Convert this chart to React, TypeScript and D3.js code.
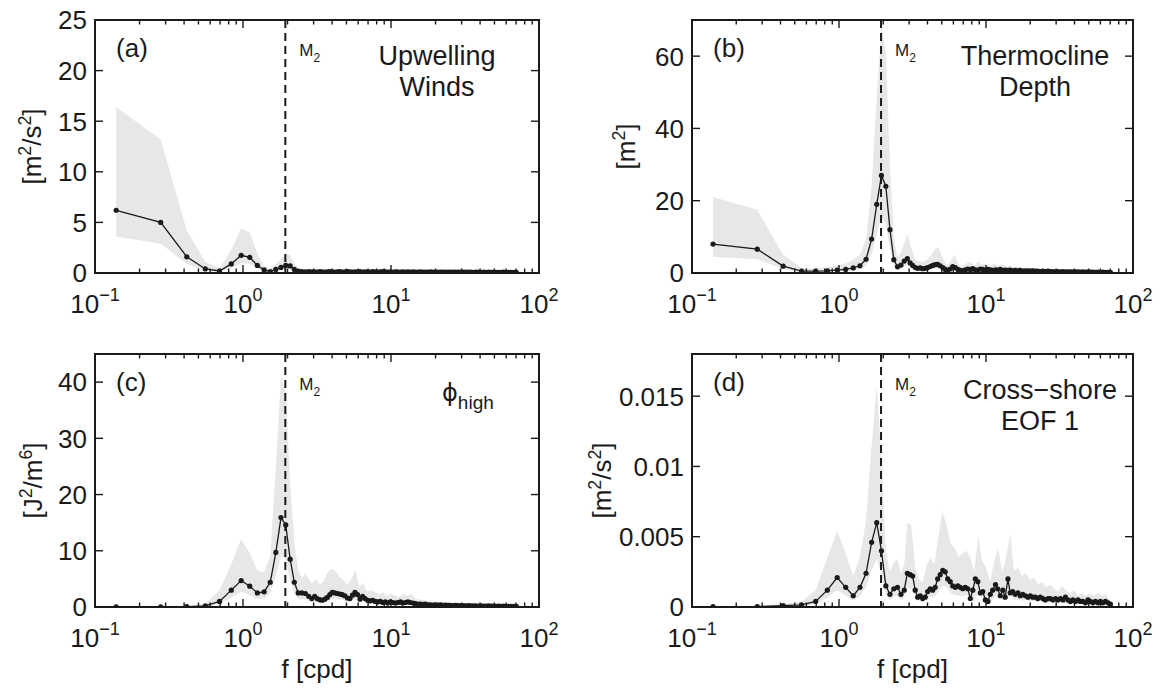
import React from 'react';
import * as d3 from 'd3';

// frequencies of the spectral estimates [cpd]
const psdFreq = [
  0.139, 0.278, 0.417, 0.556, 0.694, 0.833, 0.972, 1.111, 1.25, 1.389, 1.528, 1.667, 1.806, 1.944,
  2.083, 2.222, 2.361, 2.5, 2.639, 2.778, 2.917,
  3.05, 3.17, 3.3, 3.43, 3.57, 3.71, 3.86, 4.01, 4.17, 4.34,
  4.51, 4.69, 4.88, 5.08, 5.28, 5.49, 5.71, 5.94, 6.18, 6.43,
  6.68, 6.95, 7.23, 7.52, 7.82, 8.13, 8.46, 8.8, 9.15, 9.51,
  9.9, 10.3, 10.7, 11.1, 11.6, 12.0, 12.5, 13.0, 13.5, 14.1,
  14.6, 15.2, 15.8, 16.5, 17.1, 17.8, 18.5, 19.3, 20.0, 20.8,
  21.7, 22.5, 23.4, 24.4, 25.3, 26.4, 27.4, 28.5, 29.7, 30.8,
  32.1, 33.4, 34.7, 36.1, 37.5, 39.0, 40.6, 42.2, 43.9, 45.6,
  47.5, 49.4, 51.3, 53.4, 55.5, 57.7, 60.0, 62.4, 64.9, 67.5, 70.2,
];

// frequencies of the confidence band [cpd]
const bandFreq = [
  0.139, 0.278, 0.417, 0.556, 0.694, 0.833, 0.972, 1.111, 1.25, 1.389, 1.528, 1.667, 1.806, 1.944,
  2.083, 2.222, 2.361, 2.5, 2.639, 2.778, 2.917, 3.1, 3.3, 3.5, 3.7,
  3.95, 4.2, 4.45, 4.75, 5.05, 5.4, 5.75, 6.1, 6.5, 6.9, 7.35, 7.8, 8.3, 8.85, 9.4, 10.0,
  10.65, 11.35, 12.1, 12.9, 13.7, 14.6, 15.5, 16.5, 17.6, 18.7, 19.9, 21.2, 22.6, 24.1, 25.6, 27.3,
  29.0, 30.9, 32.9, 35.0, 37.3, 39.7, 42.3, 45.0, 47.9, 51.0, 54.3, 57.8, 61.5, 65.5, 70.0,
];

// (a) upwelling winds [m2/s2]
const windsPsd = [
  6.2, 5.0, 1.6, 0.4, 0.2, 0.9, 1.75, 1.55, 0.75, 0.3, 0.15, 0.35, 0.55, 0.75,
  0.7, 0.35, 0.2, 0.15, 0.12, 0.15, 0.12,
  0.12, 0.1, 0.13, 0.11, 0.1, 0.12, 0.14, 0.11, 0.1, 0.12,
  0.13, 0.1, 0.11, 0.14, 0.12, 0.1, 0.12, 0.11, 0.13, 0.1,
  0.11, 0.12, 0.1, 0.13, 0.11, 0.1, 0.12, 0.14, 0.11, 0.1,
  0.12, 0.1, 0.11, 0.12, 0.1, 0.11, 0.1, 0.12, 0.1, 0.11,
  0.1, 0.09, 0.11, 0.1, 0.09, 0.1, 0.11, 0.09, 0.1, 0.09,
  0.1, 0.09, 0.08, 0.1, 0.09, 0.08, 0.09, 0.1, 0.08, 0.09,
  0.08, 0.09, 0.08, 0.07, 0.09, 0.08, 0.07, 0.08, 0.07, 0.08,
  0.07, 0.08, 0.07, 0.06, 0.07, 0.08, 0.06, 0.07, 0.06, 0.07, 0.06,
];
const windsHi = [
  16.4, 13.2, 4.2, 1.1, 0.5, 2.3, 4.4, 4.0, 1.9, 0.7, 0.4, 0.9, 1.4, 1.9,
  1.8, 0.9, 0.5, 0.4, 0.3, 0.4, 0.3, 0.3, 0.3, 0.25, 0.3,
  0.25, 0.3, 0.25, 0.3, 0.25, 0.28, 0.25, 0.3, 0.25, 0.25, 0.28, 0.25, 0.25, 0.3, 0.25, 0.28,
  0.25, 0.25, 0.28, 0.25, 0.25, 0.22, 0.25, 0.22, 0.25, 0.22, 0.22, 0.25, 0.22, 0.22, 0.2, 0.22,
  0.2, 0.22, 0.2, 0.2, 0.22, 0.2, 0.2, 0.18, 0.2, 0.18, 0.2, 0.18, 0.18, 0.18, 0.15,
];
const windsLo = [
  3.6, 2.9, 0.9, 0.22, 0.1, 0.5, 1.0, 0.9, 0.42, 0.17, 0.08, 0.2, 0.3, 0.42,
  0.4, 0.2, 0.11, 0.08, 0.07, 0.08, 0.07, 0.06, 0.07, 0.06, 0.07,
  0.06, 0.07, 0.06, 0.07, 0.06, 0.06, 0.06, 0.07, 0.06, 0.06, 0.06, 0.06, 0.06, 0.07, 0.06, 0.06,
  0.06, 0.06, 0.06, 0.06, 0.06, 0.05, 0.06, 0.05, 0.06, 0.05, 0.05, 0.06, 0.05, 0.05, 0.05, 0.05,
  0.05, 0.05, 0.05, 0.05, 0.05, 0.05, 0.05, 0.04, 0.05, 0.04, 0.05, 0.04, 0.04, 0.04, 0.03,
];

// (b) thermocline depth [m2]
const thermoPsd = [
  8.0, 6.6, 1.9, 0.5, 0.5, 0.6, 0.8, 1.0, 1.4, 2.0, 3.8, 9.4, 19, 27,
  24, 12, 3.7, 1.7, 2.2, 3.3, 4.0,
  2.8, 2.1, 1.5, 1.3, 1.4, 1.2, 1.3, 1.5, 1.8, 2.1,
  2.3, 2.4, 2.0, 1.5, 1.0, 0.7, 1.1, 1.8, 1.5, 1.0,
  0.7, 0.6, 0.9, 1.1, 1.0, 1.2, 0.9, 0.8, 1.1, 1.0,
  0.8, 1.0, 0.9, 0.7, 0.9, 0.8, 1.0, 0.7, 0.8, 0.7,
  0.8, 0.6, 0.7, 0.6, 0.7, 0.5, 0.6, 0.6, 0.5, 0.6,
  0.5, 0.5, 0.4, 0.5, 0.4, 0.5, 0.4, 0.4, 0.35, 0.4,
  0.35, 0.4, 0.3, 0.35, 0.3, 0.35, 0.3, 0.3, 0.25, 0.3,
  0.25, 0.3, 0.25, 0.25, 0.2, 0.25, 0.2, 0.25, 0.2, 0.2, 0.2,
];
const thermoHi = [
  21, 17.5, 5, 1.4, 1.3, 1.6, 2.1, 2.6, 3.6, 5.1, 9.5, 24, 49, 68,
  61, 30, 9.5, 4.5, 5.6, 8.3, 10.8, 7, 3.8, 3.3, 3.1,
  3.6, 4.8, 6.5, 7.2, 4.2, 2.2, 3.2, 5.1, 2.6, 1.7, 2.6, 3.1, 2.1, 3.2, 2.3, 2.6,
  1.9, 2.6, 2.1, 2.4, 1.8, 2.1, 1.6, 1.8, 1.3, 1.6, 1.3, 1.5, 1.1, 1.3, 1.0, 1.3,
  1.0, 0.8, 1.0, 0.8, 1.0, 0.8, 0.8, 0.9, 0.7, 0.8, 0.7, 0.8, 0.5, 0.6, 0.5,
];
const thermoLo = [
  4.5, 3.8, 1.1, 0.3, 0.3, 0.35, 0.45, 0.55, 0.8, 1.1, 2.1, 5.3, 10.8, 15.4,
  13.7, 6.8, 2.1, 1.0, 1.25, 1.9, 2.3, 1.6, 0.85, 0.75, 0.7,
  0.8, 1.1, 1.25, 1.3, 0.9, 0.45, 0.7, 1.0, 0.55, 0.35, 0.55, 0.6, 0.45, 0.7, 0.5, 0.55,
  0.4, 0.55, 0.45, 0.5, 0.4, 0.45, 0.35, 0.4, 0.3, 0.35, 0.3, 0.35, 0.25, 0.3, 0.25, 0.3,
  0.25, 0.2, 0.25, 0.2, 0.25, 0.2, 0.2, 0.2, 0.15, 0.2, 0.15, 0.2, 0.12, 0.15, 0.12,
];

// (c) phi_high [J2/m6]
const phiPsd = [
  0.02, 0.02, 0.05, 0.2, 1.0, 3.0, 4.7, 3.7, 2.5, 2.7, 4.4, 9.7, 15.9, 14.6,
  8.5, 4.4, 2.5, 2.5, 2.4, 1.9, 1.5,
  1.9, 1.5, 1.3, 1.2, 1.4, 1.7, 2.2, 2.6, 2.5, 2.4,
  2.3, 2.2, 2.0, 1.6, 1.5, 2.1, 2.6, 2.2, 1.4, 1.9,
  1.5, 1.2, 1.1, 1.2, 1.0, 0.9, 1.0, 0.8, 0.9, 0.7,
  0.9, 0.8, 0.7, 0.8, 0.9, 0.7, 0.8, 0.9, 0.8, 0.7,
  0.6, 0.5, 0.5, 0.45, 0.5, 0.4, 0.4, 0.35, 0.4, 0.35,
  0.4, 0.3, 0.35, 0.3, 0.3, 0.25, 0.3, 0.25, 0.2, 0.25,
  0.2, 0.25, 0.2, 0.2, 0.2, 0.15, 0.2, 0.15, 0.15, 0.2,
  0.15, 0.15, 0.12, 0.15, 0.12, 0.15, 0.12, 0.12, 0.1, 0.12, 0.1,
];
const phiHi = [
  0.05, 0.05, 0.12, 0.6, 3.0, 7.6, 12.1, 9.6, 6.4, 6.2, 9.0, 25, 41, 38,
  22, 11.5, 6.5, 5.2, 6.0, 5.0, 4.2, 5.0, 4.0, 4.5, 6.0,
  6.8, 6.5, 5.5, 4.8, 4.0, 5.0, 6.5, 3.6, 4.2, 2.8, 3.0, 2.6, 2.3, 2.6, 2.0, 2.4,
  2.0, 1.8, 2.3, 2.0, 2.3, 1.5, 1.3, 1.3, 1.0, 1.0, 0.9, 1.0, 0.8, 0.8, 0.7, 0.8,
  0.7, 0.5, 0.7, 0.5, 0.5, 0.5, 0.4, 0.5, 0.4, 0.4, 0.4, 0.4, 0.3, 0.4, 0.25,
];
const phiLo = [
  0.01, 0.01, 0.03, 0.1, 0.55, 1.7, 2.7, 2.1, 1.4, 1.5, 2.5, 5.5, 9.1, 8.3,
  4.8, 2.5, 1.4, 1.4, 1.35, 1.1, 0.85, 0.9, 0.7, 0.75, 1.0,
  1.4, 1.5, 1.3, 1.25, 0.9, 1.1, 1.5, 0.85, 1.1, 0.7, 0.6, 0.55, 0.5, 0.55, 0.4, 0.5,
  0.45, 0.4, 0.5, 0.45, 0.5, 0.35, 0.3, 0.3, 0.22, 0.22, 0.2, 0.22, 0.17, 0.17, 0.14, 0.17,
  0.14, 0.11, 0.14, 0.11, 0.11, 0.11, 0.08, 0.11, 0.08, 0.08, 0.08, 0.08, 0.07, 0.08, 0.06,
];

// (d) cross-shore EOF 1 [m2/s2]
const eofPsd = [
  0.00002, 0.00003, 0.0001, 0.00015, 0.0004, 0.0012, 0.0021, 0.0014, 0.0008, 0.0014, 0.0024, 0.0046, 0.006, 0.004,
  0.0015, 0.0009, 0.0013, 0.0014, 0.0009, 0.0012, 0.0024,
  0.0023, 0.0022, 0.0012, 0.0007, 0.0008, 0.0006, 0.0007, 0.0011, 0.0013, 0.0012,
  0.0014, 0.002, 0.0023, 0.0026, 0.0025, 0.002, 0.0018, 0.0015, 0.0014, 0.0015,
  0.0014, 0.0013, 0.0014, 0.0013, 0.0006, 0.0012, 0.002, 0.0018, 0.001, 0.0011,
  0.0005, 0.0004, 0.0009, 0.0012, 0.0016, 0.0013, 0.0008, 0.0012, 0.0007, 0.002,
  0.001, 0.0011, 0.0009, 0.001, 0.0008, 0.0009, 0.0008, 0.0007, 0.0008, 0.0007,
  0.0007, 0.0006, 0.0007, 0.0006, 0.0005, 0.0006, 0.0006, 0.0005, 0.0006, 0.0005,
  0.0006, 0.0005, 0.0007, 0.0005, 0.0004, 0.0005, 0.0004, 0.0005, 0.0004, 0.0004,
  0.0003, 0.0005, 0.0004, 0.0003, 0.0004, 0.0003, 0.0004, 0.0003, 0.0004, 0.0003, 0.0002,
];
const eofHi = [
  0.00005, 0.00008, 0.0002, 0.0004, 0.0012, 0.0035, 0.0054, 0.0038, 0.0022, 0.0036, 0.0062, 0.0115, 0.0157, 0.0105,
  0.004, 0.0025, 0.0032, 0.0034, 0.0024, 0.003, 0.006, 0.0058, 0.0028, 0.002, 0.0017,
  0.003, 0.0035, 0.003, 0.005, 0.0068, 0.0058, 0.0045, 0.0042, 0.0036, 0.0038, 0.004, 0.0035, 0.0025, 0.005, 0.0033, 0.0028,
  0.0018, 0.0032, 0.0042, 0.0025, 0.0035, 0.0052, 0.0026, 0.0028, 0.0022, 0.0024, 0.0019, 0.0021, 0.0016, 0.0018, 0.0014, 0.0016,
  0.0013, 0.0011, 0.0015, 0.0012, 0.001, 0.0012, 0.0008, 0.001, 0.0008, 0.001, 0.0008, 0.001, 0.0008, 0.0009, 0.0005,
];
const eofLo = [
  0.00001, 0.00002, 0.00006, 0.00008, 0.00022, 0.0007, 0.0012, 0.0008, 0.00045, 0.0008, 0.0014, 0.0026, 0.0034, 0.0023,
  0.00085, 0.0005, 0.00075, 0.0008, 0.0005, 0.0007, 0.0014, 0.0013, 0.0007, 0.00045, 0.00035,
  0.0006, 0.00075, 0.0007, 0.0011, 0.0015, 0.0014, 0.001, 0.00085, 0.0008, 0.00075, 0.00085, 0.0008, 0.00035, 0.0011, 0.0007, 0.0005,
  0.00022, 0.0007, 0.0009, 0.00045, 0.00085, 0.0012, 0.0005, 0.00055, 0.00045, 0.0005, 0.0004, 0.00045, 0.00035, 0.0004, 0.0003, 0.00035,
  0.0003, 0.00022, 0.00035, 0.0003, 0.00022, 0.0003, 0.00017, 0.00022, 0.00017, 0.00022, 0.00017, 0.00022, 0.00017, 0.00022, 0.00012,
];

const xDecades = [0.1, 1, 10, 100];
const xExponents = ['\u22121', '0', '1', '2'];
const M2 = 1.932;

const FONT = '"Liberation Sans", Arial, Helvetica, sans-serif';
const BAND = '#e6e7e8';
const INK = '#1a1a1a';

const panels = [
  {
    id: 'a', psd: windsPsd, lo: windsLo, hi: windsHi, ymax: 25,
    yTicks: [0, 5, 10, 15, 20, 25], yLabels: ['0', '5', '10', '15', '20', '25'],
    left: 95, right: 539, top: 20, bottom: 273,
    ylab: [['[m', ''], ['2', 'sup'], ['/s', ''], ['2', 'sup'], [']', '']], ylabX: 41,
    title: ['Upwelling', 'Winds'], titleX: 437, xlab: false,
  },
  {
    id: 'b', psd: thermoPsd, lo: thermoLo, hi: thermoHi, ymax: 70,
    yTicks: [0, 20, 40, 60], yLabels: ['0', '20', '40', '60'],
    left: 692, right: 1133, top: 20, bottom: 273,
    ylab: [['[m', ''], ['2', 'sup'], [']', '']], ylabX: 635,
    title: ['Thermocline', 'Depth'], titleX: 1035, xlab: false,
  },
  {
    id: 'c', psd: phiPsd, lo: phiLo, hi: phiHi, ymax: 45,
    yTicks: [0, 10, 20, 30, 40], yLabels: ['0', '10', '20', '30', '40'],
    left: 95, right: 539, top: 354, bottom: 607,
    ylab: [['[J', ''], ['2', 'sup'], ['/m', ''], ['6', 'sup'], [']', '']], ylabX: 42,
    title: null, titleX: 0, xlab: true,
  },
  {
    id: 'd', psd: eofPsd, lo: eofLo, hi: eofHi, ymax: 0.018,
    yTicks: [0, 0.005, 0.01, 0.015], yLabels: ['0', '0.005', '0.01', '0.015'],
    left: 692, right: 1133, top: 354, bottom: 607,
    ylab: [['[m', ''], ['2', 'sup'], ['/s', ''], ['2', 'sup'], [']', '']], ylabX: 611,
    title: ['Cross\u2212shore', 'EOF 1'], titleX: 1040, xlab: true,
  },
];

type P = (typeof panels)[number];

function SupText({ parts, size }: { parts: string[][]; size: number }) {
  // parts: [text, 'sup' | '']
  let shift = 0;
  return (
    <>
      {parts.map(([t, kind], i) => {
        const target = kind === 'sup' ? -size * 0.4 : 0;
        const dy = target - shift;
        shift = target;
        return (
          <tspan key={i} dy={dy} fontSize={kind ? size * 0.68 : size}>
            {t}
          </tspan>
        );
      })}
    </>
  );
}

function Panel({ p }: { p: P }) {
  const x = d3.scaleLog().domain([0.1, 100]).range([p.left, p.right]);
  const y = d3.scaleLinear().domain([0, p.ymax]).range([p.bottom, p.top]);

  const band = d3.area<number>()
    .x((_, i) => x(bandFreq[i]))
    .y0((_, i) => y(p.lo[i]))
    .y1((d) => y(d))(p.hi);
  const line = d3.line<number>()
    .x((_, i) => x(psdFreq[i]))
    .y((d) => y(d))(p.psd);

  const isMajor = (t: number) => Math.abs(Math.log10(t) - Math.round(Math.log10(t))) < 1e-6;
  const xt = x.ticks();
  const midX = (p.left + p.right) / 2;
  const midY = (p.top + p.bottom) / 2;
  const row = p.top;
  const fs = 26;

  return (
    <g fontFamily={FONT} fill={INK}>
      <clipPath id={`clip-${p.id}`}>
        <rect x={p.left} y={p.top} width={p.right - p.left} height={p.bottom - p.top} />
      </clipPath>
      <g clipPath={`url(#clip-${p.id})`}>
        <path d={band ?? ''} fill={BAND} stroke="none" />
        <line x1={x(M2)} x2={x(M2)} y1={p.top} y2={p.bottom} stroke={INK} strokeWidth={2} strokeDasharray="8 5" />
        <path d={line ?? ''} fill="none" stroke={INK} strokeWidth={1.3} />
        {p.psd.map((v, i) => (
          <circle key={i} cx={x(psdFreq[i])} cy={y(v)} r={2.6} fill={INK} />
        ))}
      </g>

      {/* x ticks, bottom and top, inward */}
      {xt.map((t, i) => {
        const len = isMajor(t) ? 8 : 4.5;
        const xx = x(t);
        return (
          <g key={i} stroke={INK} strokeWidth={1.4}>
            <line x1={xx} x2={xx} y1={p.bottom} y2={p.bottom - len} />
            <line x1={xx} x2={xx} y1={p.top} y2={p.top + len} />
          </g>
        );
      })}
      {/* y ticks, left and right, inward */}
      {p.yTicks.map((t, i) => (
        <g key={i} stroke={INK} strokeWidth={1.4}>
          <line x1={p.left} x2={p.left + 8} y1={y(t)} y2={y(t)} />
          <line x1={p.right} x2={p.right - 8} y1={y(t)} y2={y(t)} />
        </g>
      ))}
      <rect x={p.left} y={p.top} width={p.right - p.left} height={p.bottom - p.top} fill="none" stroke={INK} strokeWidth={2} />

      {/* tick labels */}
      {p.yTicks.map((t, i) => (
        <text key={i} x={p.left - 8} y={y(t)} dy="0.36em" textAnchor="end" fontSize={fs}>
          {p.yLabels[i]}
        </text>
      ))}
      {xDecades.map((t, i) => (
        <text key={i} x={x(t)} y={p.bottom + 40} textAnchor="middle" fontSize={fs}>
          <tspan>10</tspan>
          <tspan dy={-12} fontSize={18}>{xExponents[i]}</tspan>
        </text>
      ))}

      {/* y label */}
      <text transform={`translate(${p.ylabX},${midY}) rotate(-90)`} textAnchor="middle" fontSize={fs}>
        <SupText parts={p.ylab} size={fs} />
      </text>

      {/* panel letter and M2 */}
      <text x={p.left + 21} y={row + 37} fontSize={fs}>({p.id})</text>
      <text x={x(M2) + 14} y={row + 36} fontSize={17}>
        M<tspan dy={6} fontSize={12}>2</tspan>
      </text>

      {p.title && (
        <g fontSize={27} textAnchor="middle">
          <text x={p.titleX} y={row + 45}>{p.title[0]}</text>
          <text x={p.titleX} y={row + 76}>{p.title[1]}</text>
        </g>
      )}
      {p.id === 'c' && (
        <text x={442} y={row + 47} fontSize={27}>
          <tspan fontFamily='"DejaVu Sans", sans-serif' fontSize={24}>{'\u03d5'}</tspan>
          <tspan dy={8} fontSize={19}>high</tspan>
        </text>
      )}
      {p.xlab && (
        <text x={midX} y={678} textAnchor="middle" fontSize={fs}>f [cpd]</text>
      )}
    </g>
  );
}

export default function App() {
  return (
    <svg
      width={1164}
      height={688}
      viewBox="0 0 1164 688"
      style={{ position: 'absolute', left: 0, top: 0, background: '#fff' }}
    >
      <rect width={1164} height={688} fill="#fff" />
      {panels.map((p) => (
        <Panel key={p.id} p={p} />
      ))}
    </svg>
  );
}
